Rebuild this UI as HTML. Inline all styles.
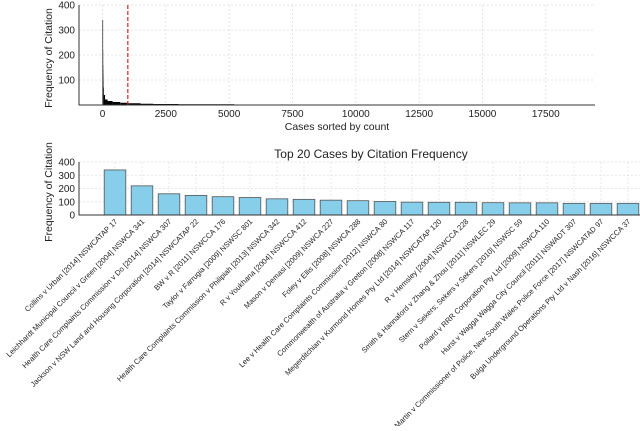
<!DOCTYPE html>
<html><head><meta charset="utf-8"><style>
body{margin:0;background:#fff;}
svg{font-family:"Liberation Sans","DejaVu Sans",sans-serif;}
</style></head><body>
<svg id="c" width="640" height="426" xmlns="http://www.w3.org/2000/svg"></svg>
<script>
// Top chart data (rank breakpoints and counts)
const rankStarts = [0,1,2,3,5,10,20,50,100,200,400,700,1000,1500,2000,3000,5200];
const rankCounts = [340,220,160,140,120,95,70,40,22,16,12,9,7,5,4,3,1];
const rankEnd = 18650;
const topXTicks = [0,2500,5000,7500,10000,12500,15000,17500];
const topYTicks = [100,200,300,400];
const cutoff = 1000;
// Bottom chart data
const cases = ["Collins v Urban [2014] NSWCATAP 17","Leichhardt Municipal Council v Green [2004] NSWCA 341","Health Care Complaints Commission v Do [2014] NSWCA 307","Jackson v NSW Land and Housing Corporation [2014] NSWCATAP 22","BW v R [2011] NSWCCA 176","Taylor v Farrugia [2009] NSWSC 801","Health Care Complaints Commission v Philipiah [2013] NSWCA 342","R v Youkhana [2004] NSWCCA 412","Mason v Demasi [2009] NSWCA 227","Foley v Ellis [2008] NSWCA 288","Lee v Health Care Complaints Commission [2012] NSWCA 80","Commonwealth of Australia v Gretton [2008] NSWCA 117","Megerditchian v Kurmond Homes Pty Ltd [2014] NSWCATAP 120","R v Hemsley [2004] NSWCCA 228","Smith & Hannaford v Zhang & Zhou [2011] NSWLEC 29","Stern v Sekers; Sekers v Sekers [2010] NSWSC 59","Pollard v RRR Corporation Pty Ltd [2009] NSWCA 110","Hurst v Wagga Wagga City Council [2011] NSWADT 307","Martin v Commissioner of Police, New South Wales Police Force [2017] NSWCATAD 97","Bulga Underground Operations Pty Ltd v Nash [2016] NSWCCA 37"];
const citations = [340,220,160,148,138,132,122,118,112,108,102,97,96,96,93,92,92,88,88,88];
const bottomYTicks = [0,100,200,300,400];

const NS="http://www.w3.org/2000/svg";
const svg=document.getElementById('c');
function mk(t,a,p){const e=document.createElementNS(NS,t);for(const k in a)e.setAttribute(k,a[k]);(p||svg).appendChild(e);return e;}

// ---- top chart
const tx=v=>102.5+v*0.02533, ty=v=>105-v*0.25;
const gTop=mk('g',{});


topXTicks.forEach(v=>{
  const l=mk('line',{x1:tx(v),x2:tx(v),y1:5,y2:105,stroke:'#ddd','stroke-dasharray':'2,2','stroke-width':0.8},gTop);
  
  const t=mk('text',{x:tx(v),y:117,'font-size':10,'text-anchor':'middle',fill:'#222'},gTop);t.textContent=v;
  
});
topYTicks.forEach(v=>{
  const l=mk('line',{x1:79,x2:595,y1:ty(v),y2:ty(v),stroke:'#ddd','stroke-dasharray':'2,2','stroke-width':0.8},gTop);
  
  const t=mk('text',{x:75,y:ty(v)+3.5,'font-size':10,'text-anchor':'end',fill:'#222'},gTop);t.textContent=v;
  
});
rankStarts.forEach((r,i)=>{
  const r2=i<rankStarts.length-1?rankStarts[i+1]:rankEnd;
  const x1=tx(r),x2=Math.max(tx(r2),x1+0.6);
  const b=mk('rect',{x:x1,y:ty(rankCounts[i]),width:x2-x1,height:105-ty(rankCounts[i]),fill:'#000'},gTop);
  
});
const cl=mk('line',{x1:tx(cutoff),x2:tx(cutoff),y1:5,y2:105,stroke:'#e02020','stroke-dasharray':'4,2','stroke-width':1.2},gTop);

const ax1=mk('path',{d:'M79,5 V105 H595',fill:'none',stroke:'#333','stroke-width':1},gTop);

const xl=mk('text',{x:337,y:130,'font-size':10.5,'text-anchor':'middle',fill:'#222'},gTop);xl.textContent='Cases sorted by count';

const yl=mk('text',{x:0,y:0,'font-size':10.5,'text-anchor':'middle',fill:'#222',transform:'translate(52,58) rotate(-90)'},gTop);yl.textContent='Frequency of Citation';


// ---- bottom chart
const bx=i=>115+27*i, by=v=>215-v*0.1325;
const gB=mk('g',{});


const tt=mk('text',{x:371,y:158,'font-size':12,'text-anchor':'middle',fill:'#222'},gB);tt.textContent='Top 20 Cases by Citation Frequency';

bottomYTicks.forEach(v=>{
  if(v>0){const l=mk('line',{x1:79,x2:640,y1:by(v),y2:by(v),stroke:'#ddd','stroke-dasharray':'2,2','stroke-width':0.8},gB);
  }
  const t=mk('text',{x:75,y:by(v)+3.5,'font-size':10,'text-anchor':'end',fill:'#222'},gB);t.textContent=v;
  
});
cases.forEach((c,i)=>{
  const l=mk('line',{x1:bx(i),x2:bx(i),y1:162,y2:215,stroke:'#e4e4e4','stroke-dasharray':'2,2','stroke-width':0.8},gB);
  
});
citations.forEach((v,i)=>{
  const b=mk('rect',{x:bx(i)-10.8,y:by(v),width:21.6,height:215-by(v),fill:'#87CEEB',stroke:'#555','stroke-width':0.8},gB);
  
  const t=mk('text',{x:0,y:0,'font-size':7.5,'text-anchor':'end',fill:'#222',transform:`translate(${bx(i)+3},${222}) rotate(-45)`},gB);t.textContent=cases[i];
  
});
const ax2=mk('path',{d:'M79,162 V215 H640',fill:'none',stroke:'#333','stroke-width':1},gB);

const yl2=mk('text',{x:0,y:0,'font-size':10.5,'text-anchor':'middle',fill:'#222',transform:'translate(52,192) rotate(-90)'},gB);yl2.textContent='Frequency of Citation';

</script>
</body></html>
